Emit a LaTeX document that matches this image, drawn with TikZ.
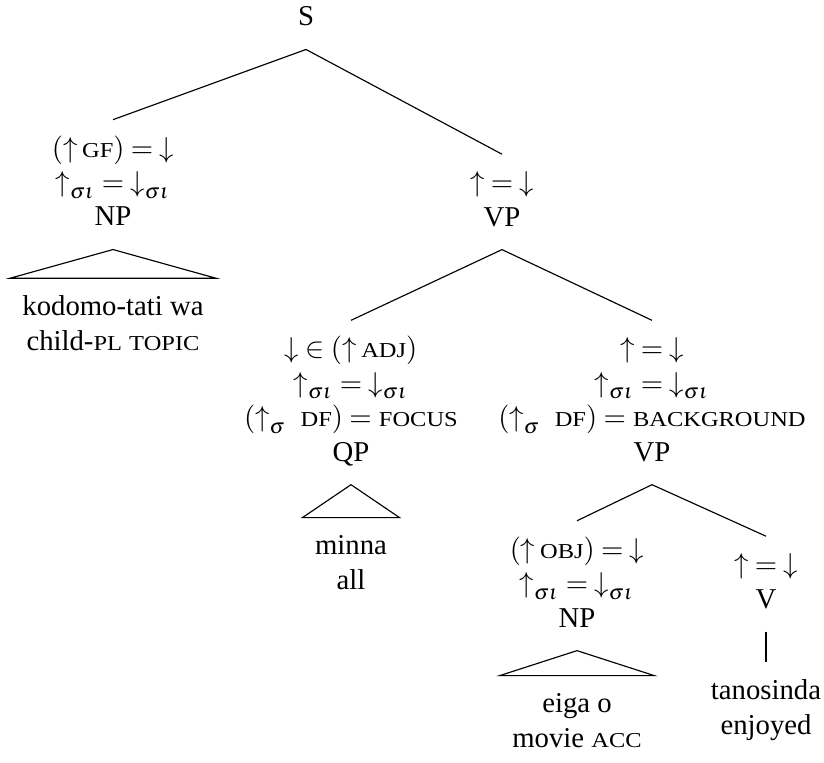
\documentclass[tikz,border=0pt]{standalone}
\usepackage{mathptmx}
\usepackage[no-math]{fontspec}
\setmainfont{Liberation Serif}
\newfontfamily\scfont[FakeStretch=1.15]{Liberation Serif}
\usepackage{tikz}
\newcommand{\fsc}[1]{{\scfont\fontsize{7.4pt}{12pt}\selectfont #1}}
\newcommand{\upa}{\mathord{\uparrow}}
\newcommand{\dna}{\mathord{\downarrow}}

\begin{document}
\begin{tikzpicture}[
  x=0.348pt, y=-0.348pt,
  cat/.style={align=center, inner xsep=2pt, inner ysep=4.4pt},
  leaf/.style={align=center, inner xsep=4.2pt, inner ysep=4.4pt},
  branch/.style={line width=0.4pt}
]
\useasboundingbox (0,0) rectangle (824,763);

% Raiz
\node[cat] (s) at (306,19) {\strut S};

% Primer nivel
\node[cat] (np1) at (113,184.6) {\strut$(\upa$\,\fsc{GF}$)=\dna$\\
  $\upa_{\sigma\iota}=\dna_{\sigma\iota}$\\NP\strut};
\node[cat] (vp1) at (502,201.9) {\strut$\upa=\dna$\\VP\strut};
\node[leaf] (kod) at (113,326) {\strut kodomo-tati wa\\child-\fsc{PL} \fsc{TOPIC}\strut};

% Segundo nivel
\node[cat] (qp) at (351,402.5) {\strut$\dna\in(\upa$\,\fsc{ADJ}$)$\\
  $\upa_{\sigma\iota}=\dna_{\sigma\iota}$\\
  $(\upa_{\sigma}$~~\fsc{DF}$)=$ \fsc{FOCUS}\\QP\strut};
\node[cat] (vp2) at (652,402.5) {\strut$\upa=\dna$\\
  $\upa_{\sigma\iota}=\dna_{\sigma\iota}$\\
  $(\upa_{\sigma}$~~\fsc{DF}$)=$ \fsc{BACKGROUND}\\VP\strut};
\node[leaf] (min) at (351,565.3) {\strut minna\\all\strut};

% Tercer nivel
\node[cat] (np2) at (577,585.7) {\strut$(\upa$\,\fsc{OBJ}$)=\dna$\\
  $\upa_{\sigma\iota}=\dna_{\sigma\iota}$\\NP\strut};
\node[cat] (v) at (766,583.9) {\strut$\upa=\dna$\\V\strut};
\node[leaf] (eig) at (577,723.3) {\strut eiga o\\movie \fsc{ACC}\strut};
\node[leaf] (tan) at (766,710) {\strut tanosinda\\enjoyed\strut};

% Ramas
\draw[branch] (s.south) -- (np1.north);
\draw[branch] (s.south) -- (vp1.north);
\draw[branch] (vp1.south) -- (qp.north);
\draw[branch] (vp1.south) -- (vp2.north);
\draw[branch] (vp2.south) -- (np2.north);
\draw[branch] (vp2.south) -- (v.north);
\draw[branch] (v.south) -- (tan.north);

% Triangulos
\draw[branch] (np1.south) -- (kod.north west) -- (kod.north east) -- cycle;
\draw[branch] (qp.south) -- (min.north west) -- (min.north east) -- cycle;
\draw[branch] (np2.south) -- (eig.north west) -- (eig.north east) -- cycle;

\end{tikzpicture}
\end{document}
